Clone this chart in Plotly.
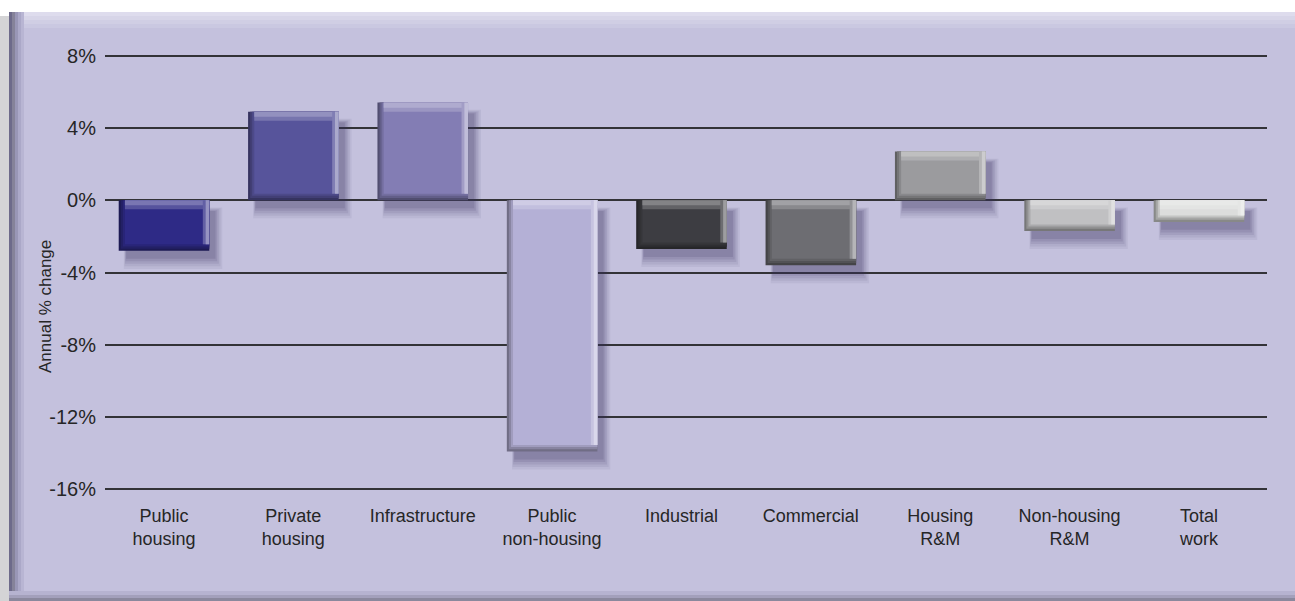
import plotly.graph_objects as go

# ---- data ----
categories = ["Public<br>housing", "Private<br>housing", "Infrastructure", "Public<br>non-housing",
              "Industrial", "Commercial", "Housing<br>R&M", "Non-housing<br>R&M", "Total<br>work"]
values = [-2.8, 4.9, 5.4, -13.9, -2.7, -3.6, 2.7, -1.7, -1.2]
tick_vals = [8, 4, 0, -4, -8, -12, -16]
tick_text = ["8%", "4%", "0%", "-4%", "-8%", "-12%", "-16%"]

# ---- styles ----
face_colors = ["#2e2a86", "#57549b", "#837db4", "#b4b0d6", "#3d3d42",
               "#6d6d72", "#9b9b9e", "#c0c0c2", "#dcdddc"]

def hx(c):
    c = c.lstrip("#")
    return [int(c[i:i + 2], 16) for i in (0, 2, 4)]

def mix(c1, c2, t):
    a, b = hx(c1), hx(c2)
    return "#" + "".join(f"{round(a[i] + (b[i] - a[i]) * t):02x}" for i in range(3))

W, H = 1295, 601
L, R, T, B = 105, 28, 52, 108
YMIN, YMAX = -16.2, 8.2
XMIN, XMAX = -0.456, 8.526
PW, PH = W - L - R, H - T - B

def px(x):
    return (x - L) / PW

def py(y):
    return (H - B - y) / PH

fig = go.Figure()
bw = 0.7
half = bw / 2
n = len(values)

def layer(xl, xr, lo, hi, colors):
    fig.add_trace(go.Bar(
        x=categories, y=[h - l for h, l in zip(hi, lo)], base=lo,
        offset=xl, width=[r - l for r, l in zip(xr, xl)],
        marker=dict(color=colors, line=dict(width=0)),
        hoverinfo="skip", showlegend=False))

lo0 = [min(v, 0) for v in values]
hi0 = [max(v, 0) for v in values]

# soft drop shadows (right and below)
for k, op in enumerate([0.07, 0.08, 0.10, 0.12, 0.14]):
    ex = 0.06 - 0.013 * k
    layer([-half + 0.06 - ex / 3] * n, [half + 0.04 + ex] * n,
          [l - 1.0 + 0.14 * k for l in lo0],
          [h - 0.4 - 0.05 * k for h in hi0],
          f"rgba(55,52,95,{op})")

dx, dy = 0.016, 0.12
dark = [mix(c, "#000000", 0.38) for c in face_colors]
light = [mix(c, "#ffffff", 0.55) for c in face_colors]

# dark left/bottom bevel steps
for k, t in enumerate([0.0, 0.35, 0.7, 1.0]):
    layer([-half + dx * k] * n, [half] * n,
          [l + dy * k for l in lo0], hi0,
          [mix(d, f, t) for d, f in zip(dark, face_colors)])

# top highlight
for k, t in enumerate([0.35, 0.65]):
    th = 0.5 - 0.22 * k
    layer([-half + 3 * dx] * n, [half] * n,
          [h - th for h in hi0], hi0,
          [mix(f, lt, t) for f, lt in zip(face_colors, light)])

# right highlight
for k, t in enumerate([0.45, 0.9]):
    rw = 0.05 - 0.022 * k
    layer([half - rw] * n, [half] * n,
          [l + 3 * dy for l in lo0], hi0,
          [mix(f, lt, t) for f, lt in zip(face_colors, light)])

# ---- panel background shapes ----
shapes = []
def rect(x0, y0, x1, y1, color, layer="below"):
    shapes.append(dict(type="rect", xref="paper", yref="paper",
                       x0=px(x0), x1=px(x1), y0=py(y1), y1=py(y0),
                       fillcolor=color, line=dict(width=0), layer=layer))

rect(0, 16, 12, 601, "rgba(160,160,165,0.45)")
rect(9, 12, 1295, 601, "#c4c1dd")
for k, c in enumerate(["#dedced", "#d7d5e8", "#d0cee4", "#cac8e1"]):
    rect(9, 12 + 4 * k, 1295, 16 + 4 * k, c)
for k, c in enumerate(["#6d6a8a", "#858299", "#9996b6", "#aba8c8", "#b8b5d3"]):
    rect(9 + 3 * k, 12, 12 + 3 * k, 601, c)
for k, c in enumerate(["#8a889d", "#a3a0bb", "#b6b3d0"]):
    rect(9, 597 - 3 * k, 1295, 601 - 3 * k, c)

fig.update_layout(
    width=W, height=H,
    margin=dict(l=L, r=R, t=T, b=B),
    paper_bgcolor="white", plot_bgcolor="rgba(0,0,0,0)",
    barmode="overlay",
    shapes=shapes,
    font=dict(family="Liberation Sans, Arial, sans-serif", color="#262626"),
    xaxis=dict(showgrid=False, zeroline=False, showline=False, range=[XMIN, XMAX],
               tickfont=dict(size=18), ticks="", ticklabelstandoff=10),
    yaxis=dict(range=[YMIN, YMAX], tickvals=tick_vals, ticktext=tick_text,
               showgrid=True, gridcolor="#333337", gridwidth=1.5,
               zeroline=False, showline=False, tickfont=dict(size=20),
               ticks="", ticklabelstandoff=8),
    annotations=[dict(text="Annual % change", xref="paper", yref="paper",
                      x=px(45), y=py(307), xanchor="center", yanchor="middle",
                      textangle=-90, showarrow=False,
                      font=dict(size=17, color="#262626"))],
)

fig.write_html("out.html")
